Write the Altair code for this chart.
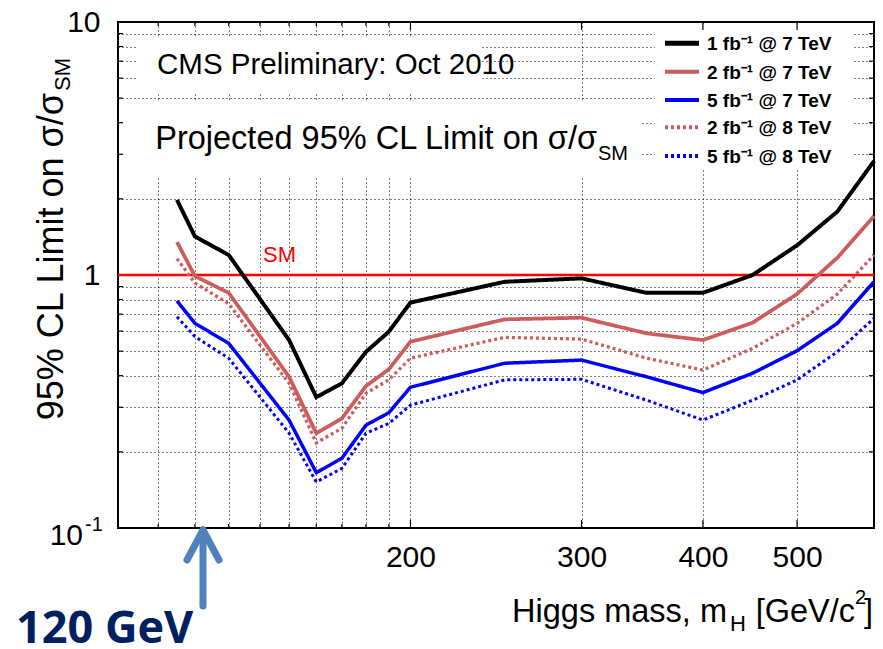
import altair as alt
import pandas as pd

# ---------------- data ----------------
mass = [115, 120, 130, 150, 160, 170, 180, 190, 200, 250, 300, 350, 400, 450, 500, 550, 600]

lim_1fb_7tev = [1.98, 1.42, 1.20, 0.553, 0.329, 0.373, 0.497, 0.597, 0.778, 0.94, 0.97, 0.85, 0.85, 1.0, 1.31, 1.78, 2.82]
lim_2fb_7tev = [1.35, 0.99, 0.85, 0.396, 0.237, 0.271, 0.364, 0.424, 0.545, 0.668, 0.678, 0.588, 0.553, 0.648, 0.841, 1.17, 1.71]
lim_5fb_7tev = [0.79, 0.644, 0.537, 0.267, 0.1655, 0.1886, 0.255, 0.2855, 0.36, 0.448, 0.461, 0.396, 0.343, 0.409, 0.502, 0.644, 0.94]
lim_2fb_8tev = [1.16, 0.93, 0.77, 0.373, 0.217, 0.248, 0.341, 0.385, 0.469, 0.567, 0.558, 0.469, 0.421, 0.513, 0.644, 0.84, 1.2]
lim_5fb_8tev = [0.684, 0.571, 0.469, 0.237, 0.152, 0.172, 0.237, 0.259, 0.306, 0.385, 0.387, 0.32, 0.267, 0.32, 0.385, 0.497, 0.674]

series_labels = ["1 fb⁻¹ @ 7 TeV", "2 fb⁻¹ @ 7 TeV", "5 fb⁻¹ @ 7 TeV",
                 "2 fb⁻¹ @ 8 TeV", "5 fb⁻¹ @ 8 TeV"]
series_values = [lim_1fb_7tev, lim_2fb_7tev, lim_5fb_7tev, lim_2fb_8tev, lim_5fb_8tev]

x_minor = [110, 120, 130, 140, 150, 160, 170, 180, 190]
x_major = [200, 300, 400, 500]
y_minor = [0.2, 0.3, 0.4, 0.5, 0.6, 0.7, 0.8, 0.9, 2, 3, 4, 5, 6, 7, 8, 9]
y_major = [0.1, 1, 10]
sm_level = [1.0]

# ---------------- styles ----------------
series_colors = ["#000000", "#cd5c5c", "#0000ff", "#cd5c5c", "#0000ff"]
series_dash = [[1, 0], [1, 0], [1, 0], [3, 3], [3, 3]]
series_width = [4, 3, 3, 3, 3]
FONT = "Liberation Sans"
W, H = 756, 506
OX, OY = 118, 22  # plot origin within the page

rows = []
for lab, vals in zip(series_labels, series_values):
    for m, v in zip(mass, vals):
        rows.append({"series": lab, "mass": m, "limit": v})
df = pd.DataFrame(rows)

xscale = alt.Scale(type="log", domain=[100, 600], nice=False)
yscale = alt.Scale(type="log", domain=[0.1, 10], nice=False)

AX_X = alt.Axis(values=x_minor + x_major, grid=True, gridDash=[1, 3], gridColor="black",
                gridOpacity=1, gridWidth=1, ticks=False, domain=False, zindex=0,
                labelExpr="datum.value >= 200 ? format(datum.value, 'd') : ''",
                labelFont=FONT, labelFontSize=30, labelColor="black", labelPadding=14,
                labelOverlap=False, labelFlush=False, title=None)
AX_Y = alt.Axis(values=y_minor + y_major, grid=True, gridDash=[1, 3], gridColor="black",
                gridOpacity=1, gridWidth=1, ticks=False, domain=False, zindex=0,
                labelExpr="datum.value > 9.5 ? '10' : (abs(datum.value - 1) < 0.01 ? '1' : '')",
                labelFont=FONT, labelFontSize=30, labelColor="black", labelPadding=18,
                labelOverlap=False, labelFlush=False, title=None)


def X(field):
    return alt.X(field, scale=xscale, axis=AX_X)


def Y(field):
    return alt.Y(field, scale=yscale, axis=AX_Y)


def one(d=None):
    return alt.Chart(pd.DataFrame(d if d is not None else {"k": [0]}))


def text(s, x, y, size, color="black", weight="normal", font=FONT, align="left", angle=0, baseline="alphabetic"):
    kw = dict(fontSize=size, color=color, fontWeight=weight, font=font, align=align, baseline=baseline)
    if angle:
        kw["angle"] = angle
    return one({"label": [s]}).mark_text(**kw).encode(
        x=alt.value(x - OX), y=alt.value(y - OY), text="label:N")


def box(x0, x1, y0, y1):
    return one().mark_rect(color="white").encode(
        x=alt.value(x0 - OX), x2=alt.value(x1 - OX), y=alt.value(y0 - OY), y2=alt.value(y1 - OY))


layers = []

# white text boxes hiding grid
layers += [box(137, 482, 37, 93), box(119.5, 640, 101, 177), box(655, 853, 24, 168)]


# inward ticks
def xticks(vals, length):
    d = one({"v": vals})
    return [
        d.mark_rule(color="black", strokeWidth=1.2).encode(x=X("v:Q"), y=alt.value(H), y2=alt.value(H - length)),
        d.mark_rule(color="black", strokeWidth=1.2).encode(x=X("v:Q"), y=alt.value(0), y2=alt.value(length)),
    ]


def yticks(vals, length):
    d = one({"v": vals})
    return [
        d.mark_rule(color="black", strokeWidth=1.2).encode(y=Y("v:Q"), x=alt.value(0), x2=alt.value(length)),
        d.mark_rule(color="black", strokeWidth=1.2).encode(y=Y("v:Q"), x=alt.value(W), x2=alt.value(W - length)),
    ]


layers += xticks(x_minor, 4) + xticks(x_major, 8) + yticks(y_minor, 5) + yticks([1], 10)

# SM line
layers.append(one({"level": sm_level}).mark_rule(color="#ff0000", strokeWidth=2.5).encode(y=Y("level:Q")))

# limit curves
lines = alt.Chart(df).mark_line(strokeJoin="miter").encode(
    x=X("mass:Q"),
    y=Y("limit:Q"),
    color=alt.Color("series:N", scale=alt.Scale(domain=series_labels, range=series_colors), legend=None),
    strokeDash=alt.StrokeDash("series:N", scale=alt.Scale(domain=series_labels, range=series_dash), legend=None),
    strokeWidth=alt.StrokeWidth("series:N", scale=alt.Scale(domain=series_labels, range=series_width), legend=None),
    detail="series:N",
)
layers.append(lines)

# legend (drawn by hand)
row_y = [43.3, 71.7, 100, 127.3, 156]
for lab, col, dash, wid, ry in zip(series_labels, series_colors, series_dash, series_width, row_y):
    layers.append(one().mark_rule(color=col, strokeWidth=wid + 1, strokeDash=dash).encode(
        x=alt.value(665 - OX), x2=alt.value(699 - OX), y=alt.value(ry - OY)))
    layers.append(text(lab, 707, ry + 7, 19, weight="bold"))

# annotations
layers.append(text("CMS Preliminary: Oct 2010", 157, 74, 29.5))
layers.append(text("Projected 95% CL Limit on σ/σ", 597, 149, 32.5, align="right"))
layers.append(text("SM", 598, 160, 20))
layers.append(text("SM", 263, 262, 22, color="#ff0000"))

# lowest y tick label 10^-1
layers.append(text("10", 83, 545, 30, align="right"))
layers.append(text("-1", 85, 531, 20))

# axis titles
layers.append(text("95% CL Limit on σ/σ", 63, 93, 36, angle=270, align="right"))
layers.append(text("SM", 70, 91, 22, angle=270, align="left"))
layers.append(text("Higgs mass, m", 727, 622, 32.5, align="right"))
layers.append(text("H", 730, 631, 22))
layers.append(text("[GeV/c", 855, 622, 32.5, align="right"))
layers.append(text("2", 855, 604, 20))
layers.append(text("]", 873, 622, 32.5, align="right"))

# 120 GeV arrow
ARROW = "#4f81bd"
layers.append(one().mark_rule(color=ARROW, strokeWidth=7, strokeCap="round").encode(
    x=alt.value(203 - OX), y=alt.value(532 - OY), y2=alt.value(606 - OY)))
layers.append(one().mark_rule(color=ARROW, strokeWidth=7, strokeCap="round").encode(
    x=alt.value(203 - OX), x2=alt.value(187 - OX), y=alt.value(530 - OY), y2=alt.value(560 - OY)))
layers.append(one().mark_rule(color=ARROW, strokeWidth=7, strokeCap="round").encode(
    x=alt.value(203 - OX), x2=alt.value(219 - OX), y=alt.value(530 - OY), y2=alt.value(560 - OY)))
layers.append(text("120 GeV", 16, 643, 45, color="#002060", weight="bold", font="Open Sans"))

chart = alt.layer(*layers).properties(
    width=W, height=H,
    autosize=alt.AutoSizeParams(type="none"),
    padding={"left": OX, "top": OY, "right": 883 - OX - W, "bottom": 649 - OY - H},
    background="white",
).configure_view(stroke="black", strokeWidth=2)

chart.save("out.html", embed_options={"renderer": "svg", "actions": False})
